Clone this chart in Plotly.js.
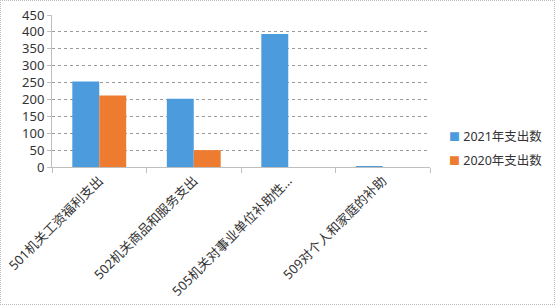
<!DOCTYPE html>
<html>
<head>
<meta charset="utf-8">
<script src="https://cdn.plot.ly/plotly-3.0.1.min.js"></script>
<style>
html,body{margin:0;padding:0;background:#fff;}
#chart{width:555px;height:305px;box-sizing:border-box;border:1px dotted #bbb;}
</style>
</head>
<body>
<div id="chart"></div>
<script>
const categories = ["501机关工资福利支出", "502机关商品和服务支出", "505机关对事业单位补助性…", "509对个人和家庭的补助"];
const series2021 = [253, 202, 394, 3];
const series2020 = [212, 50, 0, 0];
const seriesNames = ["2021年支出数", "2020年支出数"];
const yTicks = [0, 50, 100, 150, 200, 250, 300, 350, 400, 450];

const colors = ["#4B9BDD", "#EE7C30"];
const font = "Noto Sans, Noto Sans CJK SC, sans-serif";
const data = [
  {type: "bar", x: categories, y: series2021, name: seriesNames[0],
   marker: {color: colors[0], line: {width: 0}}},
  {type: "bar", x: categories, y: series2020, name: seriesNames[1],
   marker: {color: colors[1], line: {width: 0}}}
];
// legend drawn as text annotations with small square glyphs (Excel style)
const legendY = [0.2, 0.045];
const annotations = seriesNames.map((n, i) => ({
  xref: "paper", yref: "paper", x: 1.045, y: legendY[i],
  xanchor: "left", yanchor: "middle", showarrow: false,
  text: '<span style="color:' + colors[i] + ';font-size:11px">■</span> ' + n,
  font: {size: 12.5, color: "#333", family: font}
}));
const layout = {
  width: 553, height: 303,
  margin: {l: 51, r: 124, t: 14, b: 137},
  paper_bgcolor: "#fff", plot_bgcolor: "#fff",
  barmode: "group", bargap: 0.43, bargroupgap: 0,
  font: {family: font, size: 12, color: "#333"},
  showlegend: false,
  annotations: annotations,
  xaxis: {type: "category", tickangle: -45, showgrid: false, automargin: false,
          showline: true, linecolor: "#bfbfbf", linewidth: 1,
          ticks: "outside", tickson: "boundaries", ticklen: 5, tickcolor: "#bfbfbf",
          tickfont: {size: 13, color: "#333", family: font}},
  yaxis: {range: [0, 450], tickvals: yTicks, ticktext: yTicks.map(String), automargin: false,
          showgrid: true, gridcolor: "#9a9a9a", griddash: "dot", gridwidth: 1,
          zeroline: false, showline: true, linecolor: "#bfbfbf", linewidth: 1,
          ticks: "outside", ticklen: 4, tickcolor: "#bfbfbf",
          tickfont: {size: 13, color: "#333", family: font}}
};
Plotly.newPlot("chart", data, layout, {displayModeBar: false, staticPlot: true});
</script>
</body>
</html>
